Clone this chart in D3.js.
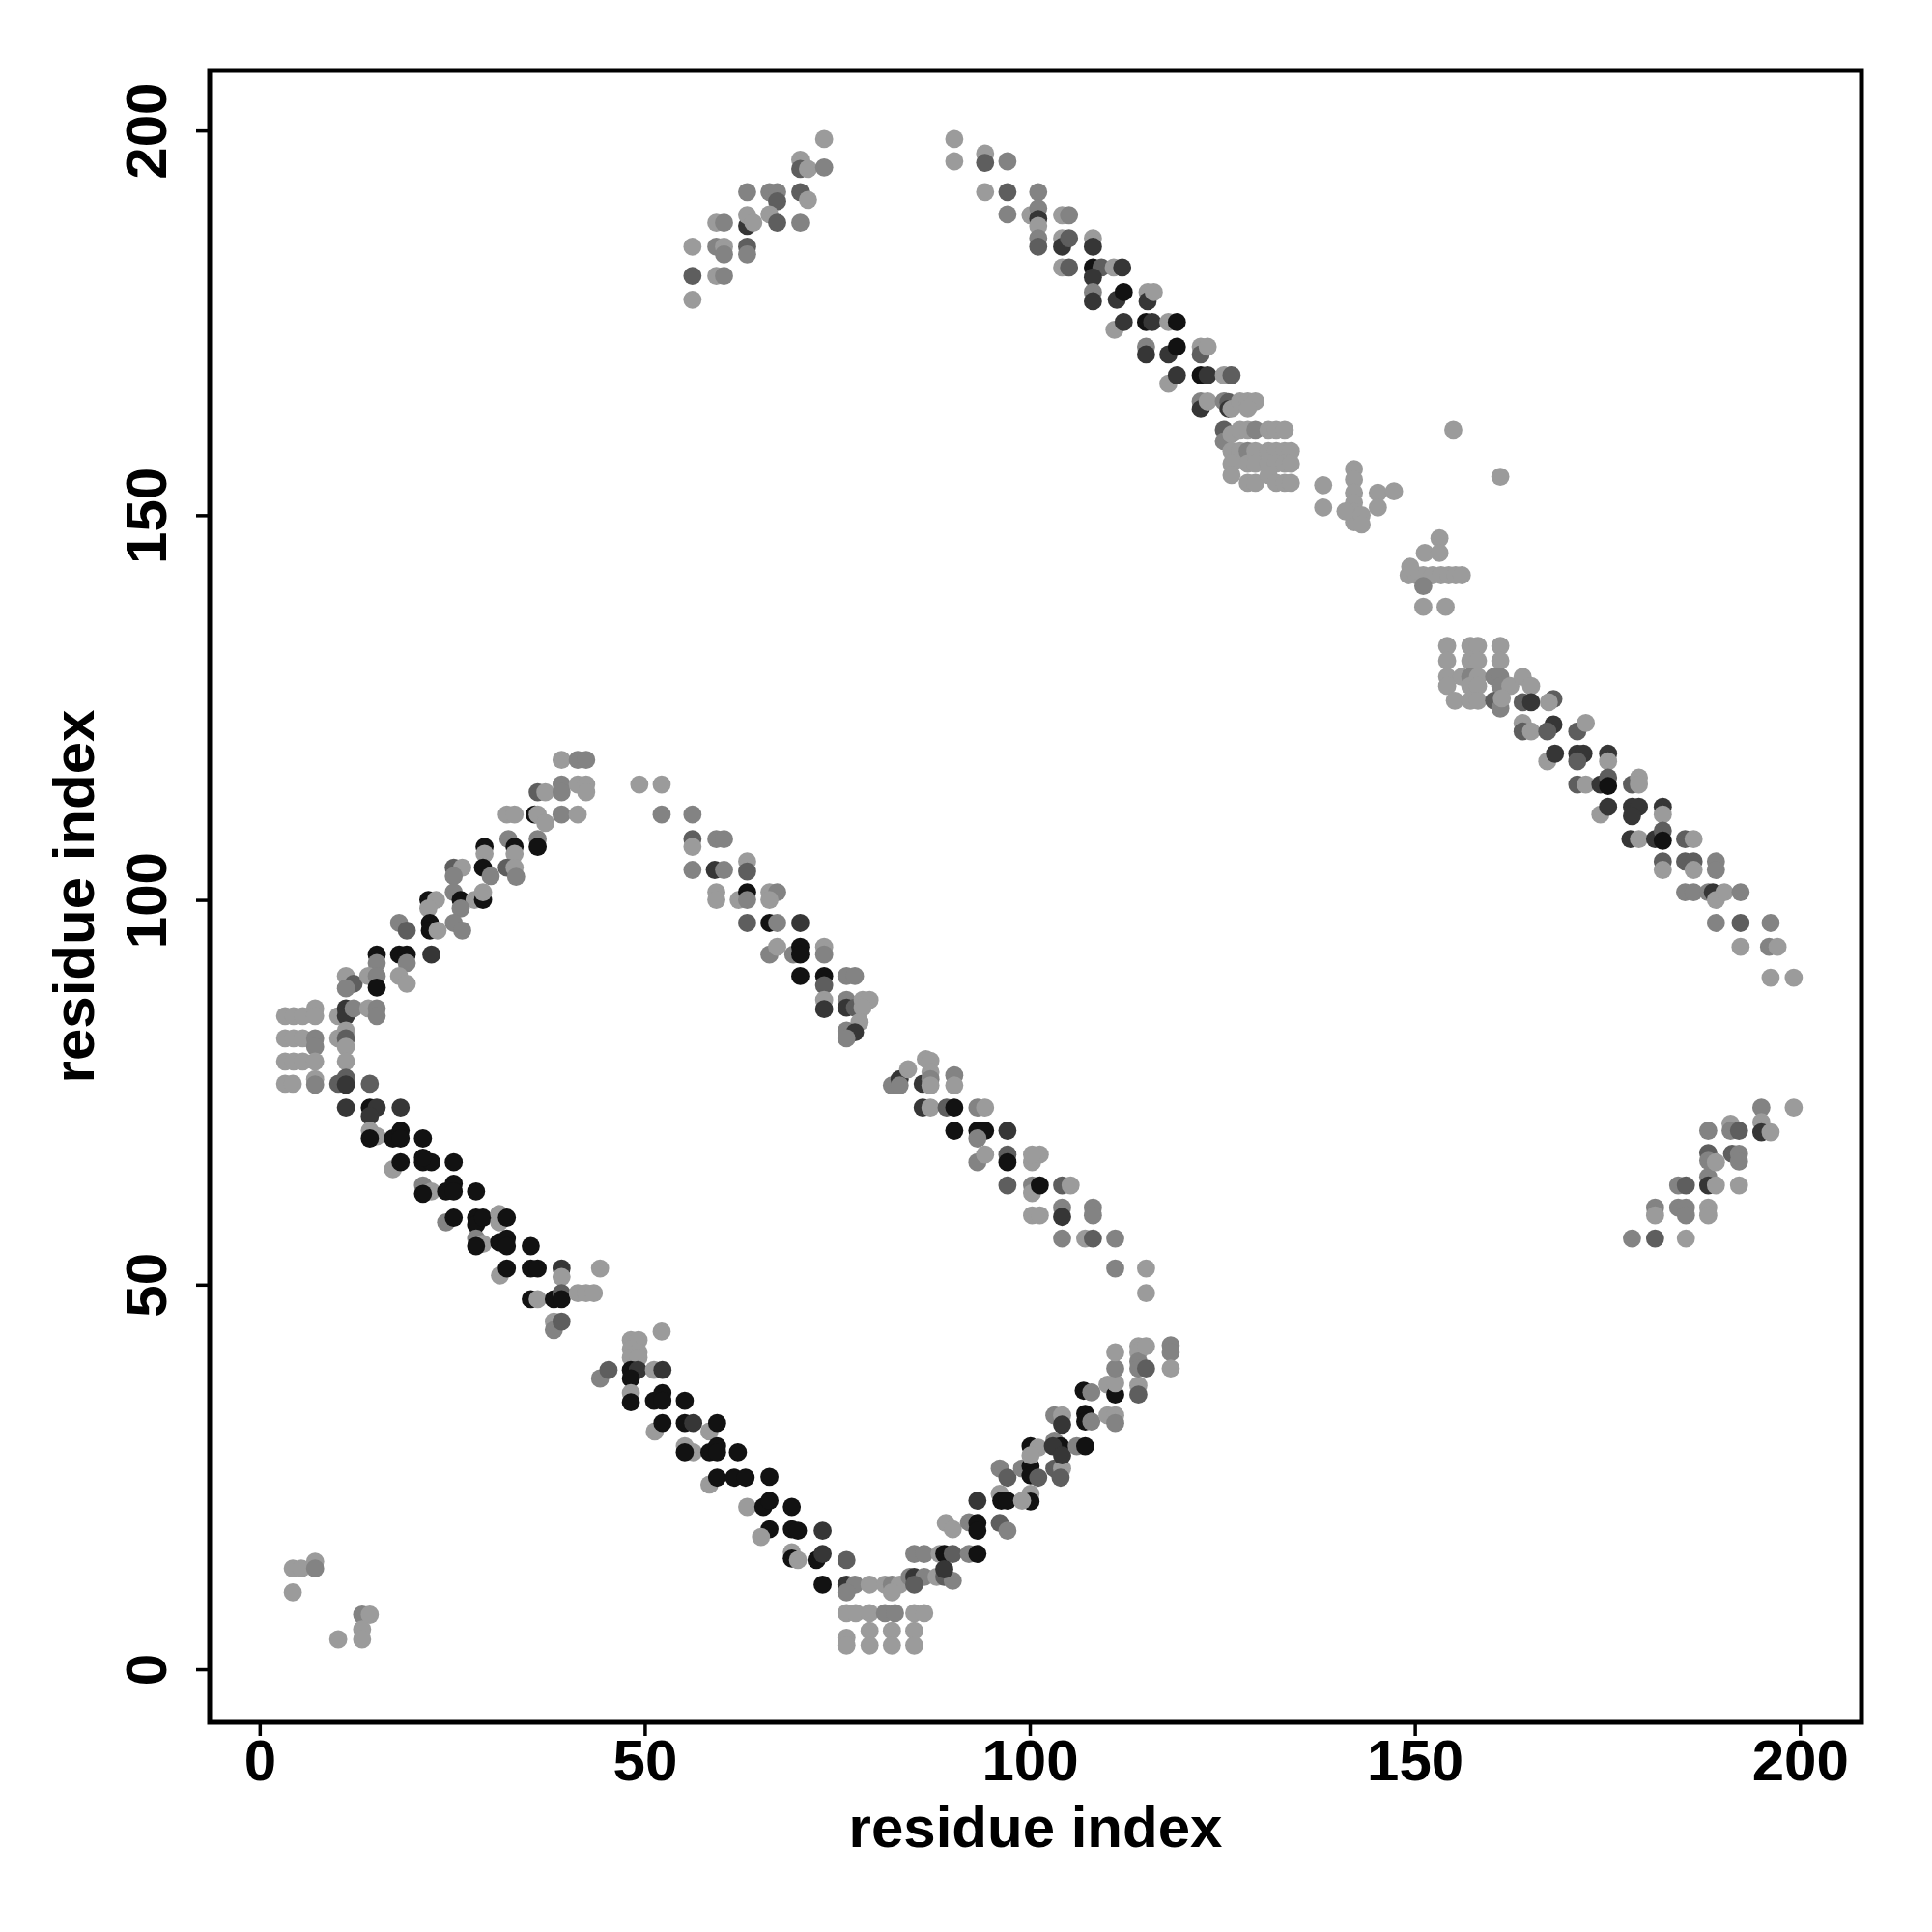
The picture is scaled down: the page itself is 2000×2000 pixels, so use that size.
<!DOCTYPE html>
<html><head><meta charset="utf-8">
<script src="https://cdn.jsdelivr.net/npm/d3@7"></script>
<style>body{margin:0;background:#fff}text{font-family:"Liberation Sans",Arial,Helvetica,sans-serif;font-weight:bold}</style>
</head><body>
<script>
// contact points: [x residue, y residue, contact level 1 (weak) .. 5 (strong)]
const leftCluster = [
[39.2,118.2,1],[41.3,118.2,2],[42.4,118.2,2],
[36.1,114.0,3],[37.1,114.0,1],[39.2,115.0,2],[39.2,114.0,2],[41.3,115.0,1],[42.4,115.0,1],[42.4,114.0,1],
[32.1,111.1,1],[33.1,111.1,1],[35.7,111.1,5],[36.1,111.1,1],[37.1,110.0,1],[39.2,111.1,2],[41.3,111.1,1],
[29.2,106.9,5],[32.3,107.9,2],[33.1,106.9,5],[36.1,107.9,2],[36.1,106.9,5],[29.2,106.0,1],[33.1,106.0,1],
[25.2,104.2,3],[26.3,104.2,1],[25.2,103.1,2],[29.0,104.2,5],[30.0,103.1,2],[32.1,104.2,3],[33.1,104.2,1],[33.3,103.0,2],
[21.9,100.0,5],[22.9,100.0,1],[25.2,101.0,2],[26.1,100.0,5],[27.9,100.0,1],[29.0,100.0,5],[29.0,101.0,1],[21.9,98.9,1],[26.1,98.9,2],
[18.1,97.0,2],[19.1,96.0,3],[22.1,97.0,5],[22.1,96.0,5],[23.1,96.0,1],[25.2,97.0,2],[26.3,96.0,2],
[15.2,92.9,5],[15.2,91.8,2],[18.1,92.9,5],[19.1,92.9,5],[19.1,91.8,2],[22.3,92.9,4],
[11.2,90.1,1],[12.2,89.1,3],[11.2,88.5,2],[14.1,90.1,1],[15.2,90.1,2],[15.2,88.6,5],[18.1,90.1,1],[19.1,89.1,1],
[3.3,84.9,1],[4.4,84.9,1],[5.6,84.9,1],[7.2,85.9,1],[7.2,84.9,1],[10.2,84.9,1],[11.2,85.9,4],[11.2,84.9,4],[12.2,85.9,2],[14.1,85.9,1],[15.2,85.9,2],[15.2,84.9,2],
[3.3,82.0,1],[4.4,82.0,1],[5.6,82.0,1],[7.2,82.0,2],[7.2,80.9,2],[10.2,82.0,1],[11.2,83.0,1],[11.2,82.0,3],[11.2,80.9,1],
[3.3,79.0,1],[4.4,79.0,1],[5.6,79.0,1],[7.2,79.0,1],[11.2,79.0,1],
[3.3,76.1,1],[4.3,76.1,1],[7.2,76.7,1],[7.2,76.0,2],[10.2,76.1,3],[11.2,76.9,3],[11.2,76.0,4],[14.3,76.1,3]
];
const lowerBand = [
[11.2,73.0,4],[14.3,73.0,5],[15.2,73.0,4],[18.3,73.0,4],[14.3,71.9,4],
[14.3,70.0,1],[15.2,69.3,1],[14.3,69.0,5],[17.3,69.0,5],[18.3,70.0,5],[18.3,69.0,5],[21.2,69.0,5],
[17.3,65.0,1],[18.3,65.9,5],[21.2,65.9,5],[22.3,65.9,5],[25.2,65.9,5],[21.2,66.5,5],
[21.2,62.9,2],[22.3,62.1,1],[21.2,61.8,5],[24.2,62.1,5],[25.2,63.1,5],[25.2,62.1,5],[28.1,62.1,5],
[24.2,58.1,2],[25.2,58.7,5],[28.1,58.7,5],[28.1,57.8,5],[29.0,58.7,5],[31.1,59.2,1],[31.1,58.1,1],[32.1,58.7,5],
[28.1,56.0,2],[29.0,55.3,1],[28.1,55.0,5],[31.1,55.5,5],[32.1,56.0,5],[32.1,55.0,5],[35.2,55.0,5],
[31.2,51.2,1],[32.1,52.1,5],[35.2,52.1,5],[36.1,52.1,5],[39.2,52.1,4],[39.2,51.0,1],[44.2,52.1,1],
[35.2,48.1,5],[36.1,48.1,1],[38.2,48.1,5],[39.2,48.9,3],[39.2,48.1,5],[41.3,48.9,1],[42.4,48.9,1],[43.4,48.9,1],
[38.2,45.2,1],[38.2,44.1,2],[39.2,45.2,3],
[52.2,43.9,1],[48.2,42.8,1],[49.2,42.8,1],[48.2,41.6,1],[49.2,41.2,1],[48.2,40.5,1],[49.2,40.5,1],
[44.2,37.8,2],[45.3,38.9,3],[48.2,38.9,5],[49.1,38.9,4],[48.2,37.8,5],[51.2,38.9,1],[52.3,38.9,4],
[48.2,35.9,1],[48.2,34.7,5],[51.2,34.9,5],[52.3,35.9,5],[52.3,34.9,5],[55.2,34.9,5],
[51.3,30.9,1],[52.3,32.0,5],[55.2,32.0,5],[56.3,32.0,4],[58.4,30.9,1],[59.4,32.0,5],
[55.2,29.0,1],[56.3,28.2,1],[55.2,28.2,5],[58.4,28.2,5],[59.4,29.0,5],[59.4,28.2,5],[62.1,28.2,5],
[58.4,24.0,1],[59.4,24.9,5],[61.6,24.9,5],[63.1,24.9,5],[63.3,21.1,1],[66.2,25.0,5],
[65.4,21.1,5],[66.2,21.9,5],[69.1,21.1,5],[66.2,18.2,5],[65.1,17.2,1],[69.1,18.2,5],[69.9,18.0,5],[73.1,18.0,4],
[69.1,15.2,1],[69.1,14.4,5],[69.9,14.2,1],[72.3,14.2,5],[73.1,15.0,4],[76.2,14.2,3],
[73.1,11.0,5],[76.2,11.0,4],[77.3,11.0,2],[76.2,10.0,2],[79.2,11.0,1],[81.2,11.0,1],[82.1,11.0,2],[83.1,11.0,1],[82.1,10.0,1],
[76.2,7.3,1],[77.4,7.3,1],[79.2,7.3,1],[81.2,7.3,2],[82.5,7.3,2],[85.0,7.3,1],[86.3,7.3,1],
[76.2,4.1,1],[76.2,3.1,1],[79.2,5.0,1],[79.2,3.1,1],[82.1,5.0,1],[82.1,3.1,1],[85.0,5.0,1],[85.0,3.1,1]
];
const risingBand = [
[85.0,15.0,2],[86.3,15.0,2],[88.3,15.0,1],[88.9,15.0,5],[90.0,15.0,3],[92.1,15.0,2],[93.2,15.0,5],
[84.4,12.0,2],[85.0,12.0,4],[86.3,12.0,2],[85.0,11.0,3],[87.9,12.0,1],[88.9,12.0,3],[90.0,11.5,2],[88.9,13.0,4],
[89.1,19.0,1],[90.0,18.2,1],[92.1,19.1,2],[93.2,19.0,5],[93.2,18.0,5],[96.1,19.0,3],[97.1,18.0,2],
[93.2,21.9,4],[96.1,22.8,1],[96.3,21.9,5],[97.1,21.9,5],[100.1,22.8,1],[100.1,21.8,5],[99.0,21.9,1],
[96.1,26.1,2],[97.1,24.9,3],[99.0,26.1,2],[100.1,26.4,5],[100.1,25.2,5],[101.1,24.9,3],[103.2,26.1,3],[104.2,26.1,1],[104.0,24.9,3],
[100.1,29.0,5],[101.1,28.8,1],[100.1,27.8,1],[103.2,29.7,2],[104.0,29.0,5],[103.0,29.0,4],[104.2,27.8,4],[106.1,29.0,2],[107.2,29.0,5],
[107.2,33.2,5],[107.2,32.2,5],[108.0,32.2,2],[103.2,33.0,2],[104.2,33.0,1],[104.2,31.8,4],[110.1,33.0,1],[111.1,33.0,1],[111.1,32.0,2],
[107.0,36.2,5],[108.0,36.0,2],[110.1,37.0,1],[111.1,35.7,5],[111.1,37.2,1],[114.1,36.9,1],[114.1,35.7,3],
[111.1,39.1,2],[111.1,41.2,1],[114.1,42.0,1],[114.1,41.2,1],[114.1,40.0,2],[114.1,39.1,2],[115.1,42.0,1],[115.1,39.1,3],
[118.3,42.1,2],[118.3,41.2,2],[118.3,39.1,1]
];
const middleBand = [
[49.3,115.0,1],[52.2,115.0,1],[52.2,111.1,2],[56.2,111.1,2],
[56.2,107.9,3],[56.2,106.9,1],[59.3,107.9,2],[60.3,107.9,2],
[56.2,103.9,2],[59.1,103.9,4],[60.3,103.9,2],[63.3,105.0,1],[63.3,103.7,3],
[59.3,101.0,1],[59.3,100.0,1],[62.2,100.0,1],[63.3,101.0,5],[63.3,100.0,2],[66.2,101.0,1],[67.2,101.0,2],[66.2,100.0,1],
[63.3,97.0,3],[66.2,97.0,5],[67.2,97.0,2],[70.2,97.0,4],
[66.2,92.9,2],[67.2,93.9,1],[69.3,92.9,2],[70.2,93.9,5],[70.2,92.9,5],[73.3,93.9,1],[73.3,92.9,2],
[70.2,90.1,5],[73.3,90.1,5],[73.3,88.9,3],[76.2,90.1,2],[77.3,90.1,2],
[73.3,87.0,1],[73.3,85.8,4],[76.2,87.0,2],[76.2,86.0,4],[77.3,86.0,3],[78.3,87.0,1],[79.2,87.0,1],[78.3,86.0,1],
[77.9,84.1,1],[76.2,83.0,2],[77.3,82.8,4],[76.2,82.0,2],
[82.1,75.9,2],[83.1,76.7,4],[83.1,75.9,2],[84.2,78.0,1],[86.1,76.1,4],[86.5,79.3,1],[87.1,79.1,1],[87.1,77.6,1],[87.1,76.7,2],[87.1,75.9,1],[90.2,77.2,2],[90.2,75.9,1],
[86.1,73.0,4],[87.1,73.0,1],[89.2,73.0,3],[90.2,73.0,5],[93.2,73.0,2],[94.2,73.0,1],
[90.2,70.0,5],[93.2,70.0,5],[94.2,70.0,5],[97.1,70.0,4],[93.2,69.0,2],
[93.2,65.9,2],[94.2,66.9,1],[97.1,66.9,3],[97.1,65.9,5],[100.3,65.9,1],[101.3,66.9,1],[100.3,66.9,1],
[97.1,62.9,3],[100.3,62.9,2],[100.3,61.9,1],[101.3,62.9,5],[104.2,62.9,3],[105.3,62.9,1],
[100.3,59.0,1],[101.3,59.0,1],[104.2,60.0,2],[104.2,58.8,4],[108.2,60.0,2],[108.2,59.0,2],
[104.2,56.0,2],[107.2,56.0,1],[108.2,56.0,3],[111.1,56.0,2],
[111.1,52.1,2],[115.1,52.1,1],[115.1,48.9,1]
];
const topLeft = [
[73.3,198.9,1],[70.2,196.2,1],[70.2,195.0,3],[71.2,195.0,1],[73.3,195.2,2],
[63.3,192.0,2],[66.2,192.0,2],[67.2,192.0,2],[67.2,190.8,3],[70.2,192.0,3],[71.2,191.0,1],
[59.3,188.0,1],[60.3,188.0,2],[63.3,187.6,4],[63.3,189.0,1],[64.1,188.0,1],[66.2,189.1,1],[67.2,188.0,3],[70.2,188.0,2],
[56.2,184.9,1],[59.3,184.9,2],[60.3,184.9,1],[60.3,183.9,2],[63.3,184.9,3],[63.3,183.9,2],
[56.2,181.1,3],[59.3,181.1,1],[60.3,181.1,2],[56.2,178.0,1]
];
const topRight = [
[90.2,198.9,1],[90.2,196.0,1],[94.2,197.0,1],[94.2,195.8,3],[97.1,196.0,2],
[94.2,192.0,1],[97.1,192.0,3],[101.1,192.0,2],
[97.1,189.1,2],[100.1,189.0,1],[101.1,189.9,2],[101.1,188.5,4],[101.1,187.6,1],[104.2,189.0,1],[105.1,189.0,2],
[101.1,186.0,2],[101.1,184.9,3],[104.2,186.0,1],[104.2,184.9,4],[105.1,186.0,3],[108.2,186.0,1],[108.2,184.9,4],
[104.2,182.2,1],[105.1,182.2,3],[108.2,182.2,5],[109.3,182.2,3],[110.9,182.2,1],[112.0,182.2,4],[108.2,180.9,4],
[108.2,179.0,2],[108.2,177.8,4],[111.3,178.0,4],[112.2,179.0,5],[115.3,179.0,1],[115.3,177.8,4],[116.1,179.0,1],
[111.0,174.1,1],[112.2,175.1,4],[115.1,175.1,5],[115.9,175.1,4],[118.0,175.1,1],[119.1,175.1,5],
[115.1,171.9,2],[115.1,170.9,4],[118.0,170.9,4],[119.1,171.9,5],[122.2,171.9,1],[122.2,170.9,3],[123.1,171.9,1],
[118.0,167.1,1],[119.1,168.2,4],[122.2,168.2,5],[123.1,168.2,4],[125.2,168.2,1],[126.2,168.2,3],
[122.2,164.8,2],[122.2,163.8,4],[123.1,164.8,1],[125.2,164.8,2],[125.8,164.7,3],[125.8,163.8,4],[126.2,163.8,1],[127.3,164.8,1],[128.3,164.8,1],[129.3,164.8,1],[128.3,163.8,1],
[125.2,161.1,3],[125.2,159.6,2],[126.2,160.5,1],[127.3,161.1,1],[128.3,161.1,1],[129.3,161.1,2],[131.0,161.1,1],[132.0,161.1,1],[133.1,161.1,1],
[126.2,158.3,1],[127.3,158.3,1],[128.3,158.3,2],[129.3,158.3,1],[131.0,158.3,1],[132.0,158.3,1],[133.1,158.3,1],[133.9,158.3,1],
[126.2,156.7,1],[128.3,156.7,1],[129.3,156.7,1],[131.0,156.7,1],[132.0,156.7,1],[133.1,156.7,1],[133.9,156.7,1],
[126.2,155.2,1],[128.3,154.2,1],[129.3,154.2,1],[131.0,155.2,1],[132.0,154.2,1],[133.1,154.2,1],[133.9,154.2,1]
];
const middleRight = [
[155.0,161.1,1],[161.1,155.0,1],[138.1,153.9,1],[138.1,151.0,1],
[142.1,156.0,1],[142.1,154.6,1],[142.1,152.9,1],[142.1,151.6,1],[142.1,150.4,1],[142.1,149.1,1],
[141.0,150.5,1],[143.1,150.0,1],[143.1,148.8,1],[145.2,152.9,1],[145.2,151.0,1],[147.3,153.1,1],
[153.2,147.0,1],[151.3,145.1,1],[153.2,145.1,1],
[149.2,142.2,1],[150.2,142.2,1],[151.1,142.2,1],[152.3,142.2,1],[153.4,142.2,1],[154.4,142.2,1],[155.3,142.2,1],[156.1,142.2,1],[149.4,143.3,1],[151.1,140.8,2],
[151.1,138.1,1],[154.0,138.1,1],
[154.2,133.0,1],[157.2,133.0,1],[158.2,133.0,1],[161.1,133.0,1],
[154.2,131.1,1],[157.2,131.1,1],[158.2,131.1,1],[161.1,131.1,1],
[154.2,129.0,1],[156.1,129.0,1],[157.2,129.0,2],[158.2,129.0,1],[160.3,129.0,2],[161.1,129.0,2],
[154.2,127.8,1],[157.2,127.8,1],[158.2,127.8,1],[161.1,127.8,2],[162.4,127.8,1],
[155.2,125.9,1],[157.2,125.9,1],[158.2,125.9,1],[160.3,125.9,3],[161.1,124.9,2],[161.3,126.2,1]
];
const rightBand = [
[164.0,129.0,1],[165.1,127.8,1],[164.0,125.7,3],[165.1,125.7,4],[168.0,126.1,3],[167.4,125.7,1],
[164.0,123.0,1],[164.0,121.9,3],[165.1,121.9,1],[168.0,122.8,4],[167.2,121.9,3],[171.1,121.9,3],[172.2,123.0,1],
[167.2,118.0,1],[168.2,119.0,4],[171.1,119.0,4],[171.9,119.0,4],[171.1,118.0,3],[175.1,119.0,4],[175.1,118.0,1],
[171.1,115.0,3],[172.2,115.0,1],[174.1,115.0,4],[175.1,115.9,3],[175.1,114.8,5],[178.2,115.0,3],[179.1,115.9,1],[179.1,115.0,1],
[174.1,111.1,1],[175.1,112.1,4],[178.2,112.1,4],[179.1,112.1,4],[178.2,110.9,4],[182.2,112.1,4],[182.2,111.1,1],
[178.0,107.9,4],[179.1,107.9,1],[181.2,107.9,4],[182.2,109.0,3],[182.2,107.7,5],[185.1,107.9,3],[186.2,107.9,1],
[182.2,105.0,3],[182.2,103.9,1],[185.1,105.0,3],[186.2,105.0,3],[186.2,103.9,1],[189.1,105.0,2],[189.1,103.9,2],
[185.1,101.0,2],[186.2,101.0,2],[188.1,101.0,2],[188.7,101.0,4],[189.1,100.0,1],[190.2,101.0,1],[192.3,101.0,2],
[189.1,97.0,2],[192.3,97.0,3],[196.2,97.0,2],
[192.3,93.9,1],[196.0,93.9,2],[197.1,93.9,1],
[196.2,89.9,1],[199.2,89.9,1]
];
const rightLower = [
[178.2,56.0,2],[181.2,56.0,3],[185.2,56.0,1],
[181.2,60.0,2],[181.2,59.0,1],[184.2,60.0,2],[185.2,60.0,2],[185.2,59.0,2],[188.1,60.0,1],[188.1,59.0,1],
[184.2,62.9,2],[185.2,62.9,3],[188.1,64.0,2],[188.1,62.9,4],[189.1,62.9,1],[192.1,62.9,1],
[188.1,67.1,3],[188.1,66.1,2],[189.1,65.9,1],[191.2,67.0,3],[192.1,67.0,2],[192.1,66.0,2],
[188.1,70.0,2],[191.0,70.9,1],[191.0,70.0,2],[192.1,70.0,3],
[195.0,73.0,2],[195.0,71.1,1],[195.0,69.8,4],[196.2,69.8,1],[199.2,73.0,1]
];
const bottomLeft = [
[4.3,13.1,1],[5.4,13.1,1],[7.2,14.0,1],[7.2,13.1,2],[4.3,10.0,1],[13.3,7.1,2],[14.3,7.1,1],[10.2,3.9,1],[13.3,5.2,1],[13.3,3.9,1]
];
const tickValues = [0, 50, 100, 150, 200];
const axisTitle = "residue index";
const levelColors = ["#9b9b9b", "#838383", "#5e5e5e", "#363636", "#121212"];

const W = 2000, H = 2000;
const svg = d3.select("body").append("svg").attr("width", W).attr("height", H)
  .style("background", "#fff");
const x = d3.scaleLinear().domain([-6.5, 208]).range([217, 1927]);
const y = d3.scaleLinear().domain([-6.9, 207.8]).range([1783, 73]);
const color = d3.scaleOrdinal().domain([1,2,3,4,5]).range(levelColors);
const FS = 60;

const all = [].concat(leftCluster, lowerBand, risingBand, middleBand, topLeft, topRight, middleRight, rightBand, rightLower, bottomLeft);
svg.append("g").selectAll("circle").data(all).join("circle")
  .attr("cx", d => x(d[0])).attr("cy", d => y(d[1])).attr("r", 9.4)
  .attr("fill", d => color(d[2]));

// frame
svg.append("rect").attr("x", x.range()[0]).attr("y", y.range()[1])
  .attr("width", x.range()[1] - x.range()[0]).attr("height", y.range()[0] - y.range()[1])
  .attr("fill", "none").attr("stroke", "#000").attr("stroke-width", 5);

// x axis
const xa = svg.append("g").attr("transform", `translate(0,${y.range()[0]})`)
  .call(d3.axisBottom(x).tickValues(tickValues).tickSize(14).tickPadding(3).tickFormat(d3.format("d")));
xa.select(".domain").remove();
xa.selectAll(".tick line").attr("stroke", "#000").attr("stroke-width", 3.5);
xa.selectAll(".tick text").attr("font-size", FS).attr("fill", "#000")
  .attr("font-family", "Liberation Sans, Arial, sans-serif").attr("font-weight", "bold");

// y axis
const ya = svg.append("g").attr("transform", `translate(${x.range()[0]},0)`)
  .call(d3.axisLeft(y).tickValues(tickValues).tickSize(14).tickFormat(d3.format("d")));
ya.select(".domain").remove();
ya.selectAll(".tick line").attr("stroke", "#000").attr("stroke-width", 3.5);
ya.selectAll(".tick text").attr("font-size", FS).attr("fill", "#000")
  .attr("font-family", "Liberation Sans, Arial, sans-serif").attr("font-weight", "bold")
  .attr("x", null).attr("dy", null)
  .attr("text-anchor", "middle")
  .attr("transform", "translate(-45,0) rotate(-90)");

// titles
svg.append("text").attr("x", (x.range()[0] + x.range()[1]) / 2).attr("y", 1912)
  .attr("text-anchor", "middle").attr("font-size", FS).text(axisTitle);
svg.append("text").attr("transform", `translate(97,${(y.range()[0] + y.range()[1]) / 2}) rotate(-90)`)
  .attr("text-anchor", "middle").attr("font-size", FS).text(axisTitle);
</script>
</body></html>
